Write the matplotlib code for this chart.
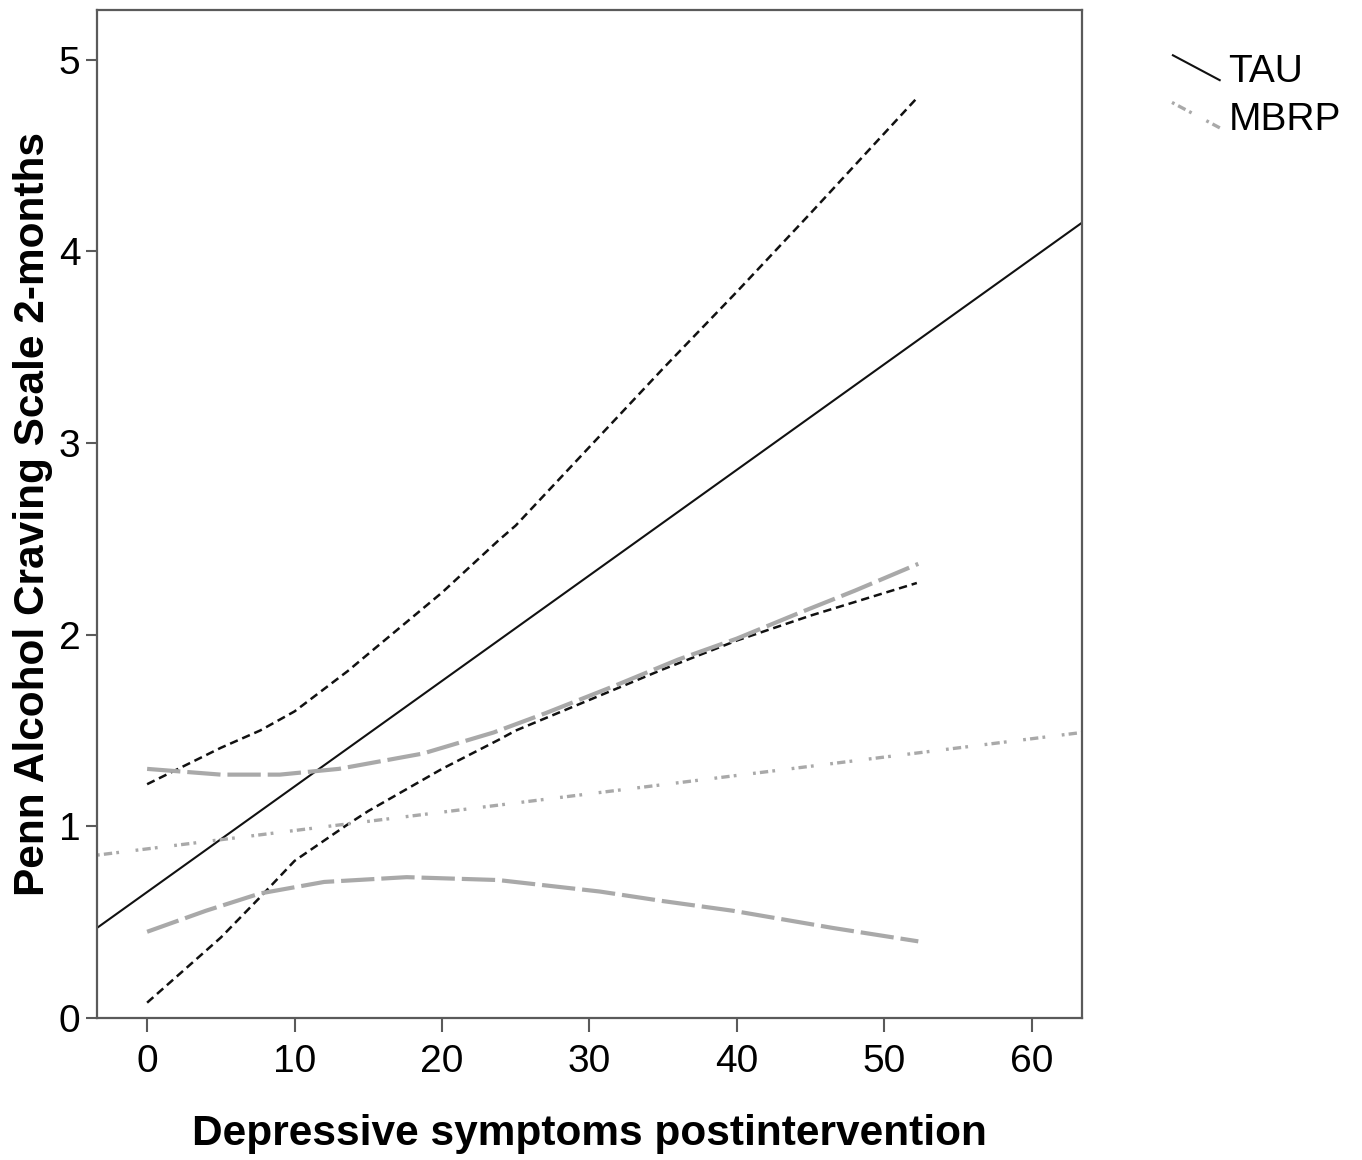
"""Penn Alcohol Craving Scale vs depressive symptoms, TAU vs MBRP fit lines with 95% CI"""

import matplotlib
matplotlib.use("Agg")
import matplotlib.pyplot as plt
from matplotlib.lines import Line2D
from matplotlib.legend_handler import HandlerLine2D

plt.rcParams["font.family"] = ["Liberation Sans", "DejaVu Sans"]
plt.rcParams["lines.scale_dashes"] = False

# ── Data ────────────────────────────────────────────────────────────────────

X_MIN, X_MAX = -3.4, 63.4
Y_MIN, Y_MAX = 0.0, 5.26

# fit lines span the whole x range
fit_x = [X_MIN, X_MAX]
tau_fit = [0.47, 4.15]
mbrp_fit = [0.85, 1.49]

# TAU 95% CI
tau_ci_x = [0, 5, 7.66, 10, 13.6, 15, 20, 23.8, 25, 30, 35, 40, 45, 52.2]
tau_ci_upper = [1.22, 1.41, 1.50, 1.60, 1.81, 1.90, 2.22, 2.49, 2.57, 2.98,
                3.39, 3.79, 4.20, 4.80]
tau_ci_lower = [0.08, 0.42, 0.63, 0.82, 1.01, 1.08, 1.30, 1.45, 1.50, 1.66,
                1.82, 1.97, 2.10, 2.27]

# MBRP 95% CI
mbrp_up_x = [0, 5, 9, 13, 18.7, 23.5, 27, 31.6, 36, 40, 44.1, 48, 52.3]
mbrp_ci_upper = [1.30, 1.27, 1.27, 1.30, 1.38, 1.49, 1.59, 1.73, 1.87, 1.98,
                 2.11, 2.23, 2.37]
mbrp_lo_x = [0, 4, 7.66, 12, 17.6, 23.8, 30.7, 35, 39.7, 46.5, 52.3]
mbrp_ci_lower = [0.45, 0.56, 0.65, 0.71, 0.735, 0.72, 0.66, 0.61, 0.56, 0.47,
                 0.40]

x_ticks = [0, 10, 20, 30, 40, 50, 60]
y_ticks = [0, 1, 2, 3, 4, 5]
groups = ["TAU", "MBRP"]

GREY = "#a9a9a9"
FRAME = "#5a5a5a"


class DiagonalHandler(HandlerLine2D):
    """SPSS-style slanted legend sample."""

    def create_artists(self, legend, orig_handle, xdescent, ydescent,
                       width, height, fontsize, trans):
        line = Line2D([-xdescent, width - xdescent],
                      [height * 1.0 - ydescent, height * 0.05 - ydescent])
        self.update_prop(line, orig_handle, legend)
        line.set_transform(trans)
        return [line]


def main() -> None:
    fig = plt.figure(figsize=(13.62, 11.6), dpi=100)
    ax = fig.add_axes([0.0712, 0.1224, 0.7232, 0.869])

    ax.plot(fit_x, tau_fit, color="#111111", lw=1.5, solid_capstyle="butt",
            label=groups[0])
    ax.plot(tau_ci_x, tau_ci_upper, color="#111111", lw=1.8, dashes=(6, 3.5))
    ax.plot(tau_ci_x, tau_ci_lower, color="#111111", lw=1.8, dashes=(6, 3.5))

    ax.plot(fit_x, mbrp_fit, color=GREY, lw=2.4,
            dashes=(2, 3, 6, 3, 2, 12), label=groups[1])
    ax.plot(mbrp_up_x, mbrp_ci_upper, color=GREY, lw=3.0, dashes=(24, 5))
    ax.plot(mbrp_lo_x, mbrp_ci_lower, color=GREY, lw=3.0, dashes=(24, 5))

    ax.set_xlim(X_MIN, X_MAX)
    ax.set_ylim(Y_MIN, Y_MAX)
    ax.set_xticks(x_ticks)
    ax.set_yticks(y_ticks)
    ax.tick_params(axis="x", length=10, width=1.5, color=FRAME, pad=9,
                   labelsize=28)
    ax.tick_params(axis="y", length=8, width=1.5, color=FRAME, pad=4,
                   labelsize=28)
    for sp in ax.spines.values():
        sp.set_edgecolor(FRAME)
        sp.set_linewidth(1.6)

    ax.set_xlabel("Depressive symptoms postintervention", fontsize=30.5,
                  fontweight="bold", labelpad=24)
    ax.set_ylabel("Penn Alcohol Craving Scale 2-months", fontsize=30.5,
                  fontweight="bold", labelpad=4)

    ax.legend(handler_map={Line2D: DiagonalHandler()}, frameon=False,
              fontsize=28, handlelength=1.25, handletextpad=0.2,
              labelspacing=0.3, borderpad=0, borderaxespad=0,
              loc="upper left", bbox_to_anchor=(1172 / 1362, 1 - 54 / 1160),
              bbox_transform=fig.transFigure)

    fig.savefig("out.png", dpi=100, facecolor="white")
    plt.close(fig)


if __name__ == "__main__":
    main()
